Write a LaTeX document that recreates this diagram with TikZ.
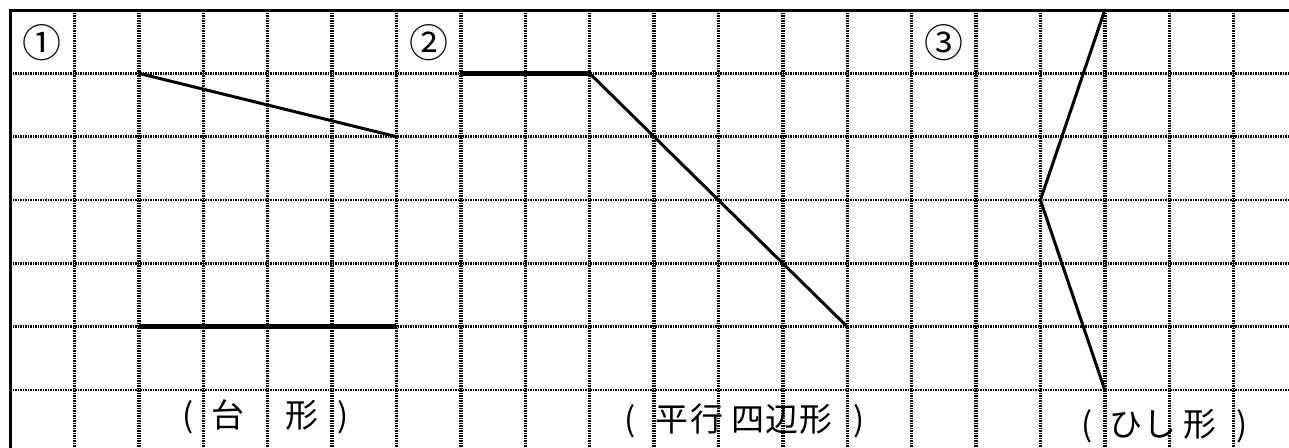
\documentclass[tikz,border=0pt]{standalone}
\usepackage{fontspec}
\newfontfamily\jp{Noto Sans CJK JP}
\begin{document}
\begin{tikzpicture}[x=1pt,y=-1pt,
  vgrid/.style={line width=3.4pt,dash pattern=on 1.6pt off 0.9pt,black},
  hgrid/.style={line width=2.6pt,dash pattern=on 1.6pt off 0.9pt,black},
  frame/.style={line width=3pt,line join=miter,line cap=rect},
  thinseg/.style={line width=3pt,line cap=round,line join=round},
  thickseg/.style={line width=5.5pt,line cap=butt},
  num/.style={font=\jp\fontsize{39}{39}\selectfont,inner sep=0pt,anchor=center},
  lab/.style={font=\jp\fontsize{33}{33}\selectfont,inner sep=0pt,anchor=base}]
\useasboundingbox (0,0) rectangle (1289,447);
\fill[white] (0,0) rectangle (1289,447);
% grid
\foreach \k in {1,...,19} \draw[vgrid] ({10+64.4*\k},10) -- ({10+64.4*\k},447);
\foreach \j in {1,...,6} \draw[hgrid] (10,{10+63.33*\j}) -- (1289,{10+63.33*\j});
% frame
\coordinate (fb) at (10,447);
\coordinate (ft) at (10,10);
\coordinate (fr) at (1289,10);
\draw[frame] (fb) -- (ft) -- (fr);
% coordinates
\coordinate (a1) at (138.8,73.33);
\coordinate (a2) at (396.4,136.67);
\coordinate (a3) at (138.8,326.67);
\coordinate (a4) at (396.4,326.67);
\coordinate (b1) at (460.8,73.33);
\coordinate (b2) at (589.6,73.33);
\coordinate (b3) at (847.2,326.67);
\coordinate (c1) at (1104.8,10);
\coordinate (c2) at (1040.4,200);
\coordinate (c3) at (1104.8,390);
% figure 1
\draw[thinseg] (a1) -- (a2);
\draw[thickseg] (a3) -- (a4);
% figure 2
\draw[thickseg] (b1) -- (b2);
\draw[thinseg] (b2) -- (b3);
% figure 3
\draw[thinseg] (c1) -- (c2) -- (c3);
% numbers
\node[num] (n1) at (42,43) {①};
\node[num] (n2) at (429,43) {②};
\node[num] (n3) at (944,43) {③};
% labels 1
\node[lab] (l1a) at (188,427.5) {(};
\node[lab] (l1b) at (228,427.5) {台};
\node[lab] (l1c) at (302,427.5) {形};
\node[lab] (l1d) at (343,427.5) {)};
% labels 2
\node[lab] (l2a) at (630,431.5) {(};
\node[lab] (l2b) at (672,431.5) {平};
\node[lab] (l2c) at (707,431.5) {行};
\node[lab] (l2d) at (748,431.5) {四};
\node[lab] (l2e) at (782,431.5) {辺};
\node[lab] (l2f) at (816,431.5) {形};
\node[lab] (l2g) at (859,431.5) {)};
% labels 3
\node[lab] (l3a) at (1087,436) {(};
\node[lab] (l3b) at (1126,436) {ひ};
\node[lab] (l3c) at (1160,436) {し};
\node[lab] (l3d) at (1200,436) {形};
\node[lab] (l3e) at (1242,436) {)};
\end{tikzpicture}
\end{document}
